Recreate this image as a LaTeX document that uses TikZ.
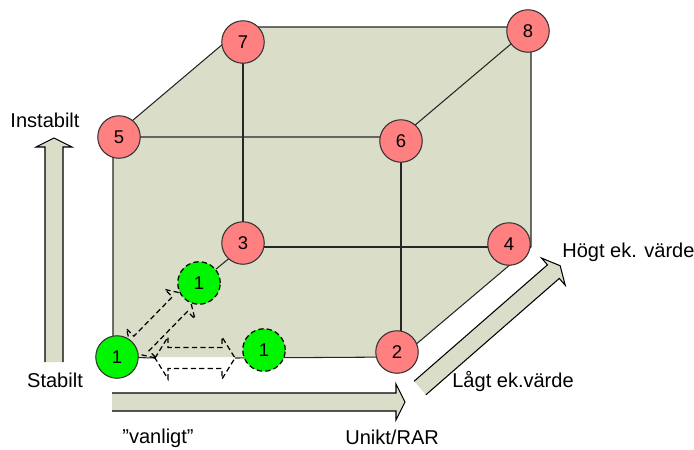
\documentclass[tikz,border=0pt]{standalone}
\usepackage{fontspec}
\setmainfont{Liberation Sans}
\usetikzlibrary{backgrounds}
\definecolor{cubefill}{RGB}{218,222,200}
\definecolor{ballred}{RGB}{255,128,128}
\definecolor{ballgreen}{RGB}{0,245,0}
\tikzstyle{ball} = [circle, draw=black!80, line width=0.6pt, minimum size=0.85cm, inner sep=0pt, font=\fontsize{10.5}{12}\selectfont]
\tikzstyle{redball} = [ball, fill=ballred]
\tikzstyle{greenball} = [ball, fill=ballgreen]
\tikzstyle{moveball} = [greenball, draw=black, line width=0.7pt, dash pattern=on 3pt off 1.8pt]
\tikzstyle{edge} = [draw=black!85, line width=0.6pt]
\tikzstyle{axislabel} = [font=\fontsize{11.4}{13}\selectfont, inner sep=0pt]
\tikzstyle{dashmove} = [draw=black, line width=0.7pt, dash pattern=on 3pt off 1.8pt]
\tikzset{
	pics/bigarrow/.style={code={
		\fill [cubefill] (0,-9) -- (#1-9,-9) -- (#1-9,-18) -- (#1,0) -- (#1-9,18) -- (#1-9,9) -- (0,9) -- cycle;
		\draw [edge, draw=black] (0,-9) -- (#1-9,-9) -- (#1-9,-18) -- (#1,0) -- (#1-9,18) -- (#1-9,9) -- (0,9);
	}},
	pics/movearrow/.style={code={
		\draw [dashmove] (0,0) -- (13,-21) -- (13,-10.5) -- (#1-13,-10.5) -- (#1-13,-21) -- (#1,0)
			-- (#1-13,21) -- (#1-13,10.5) -- (13,10.5) -- (13,21) -- cycle;
	}}
}

\begin{document}
\begin{tikzpicture}[x=0.02cm, y=-0.02cm]

		\useasboundingbox (0,0) rectangle (694,450);

		% cube corners
		\coordinate (c1) at (113,357);
		\coordinate (c2) at (401,357);
		\coordinate (c3) at (243,247);
		\coordinate (c4) at (531,247);
		\coordinate (c5) at (113,137);
		\coordinate (c6) at (401,137);
		\coordinate (c7) at (243,27);
		\coordinate (c8) at (531,27);

		% ends of the dashed move arrows
		\coordinate (htail) at (155,358);
		\coordinate (hhead) at (235,358);
		\coordinate (dtail) at (132.4,352.8);

		\node (n5) [redball] at (119,137) {5};
		\node (n7) [redball] at (243,42) {7};
		\node (n8) [redball] at (528,31) {8};
		\node (n6) [redball] at (401,141) {6};
		\node (n3) [redball] at (243,243) {3};
		\node (n4) [redball] at (509,244) {4};
		\node (n2) [redball] at (397,352) {2};

		\node (g1) [greenball] at (117,357) {1};
		\node (g1up) [moveball] at (199,283) {1};
		\node (g1right) [moveball] at (264,350) {1};

		\node (instab) [axislabel, anchor=base] at (45,127) {Instabilt};
		\node (stab) [axislabel, anchor=base] at (55,387) {Stabilt};
		\node (hogt) [axislabel, anchor=base west] at (562,257) {Högt ek. värde};
		\node (lagt) [axislabel, anchor=base west] at (452,387) {Lågt ek.värde};
		\node (vanl) [axislabel, anchor=base west] at (122,443) {”vanligt”};
		\node (unik) [axislabel, anchor=base west] at (345,444) {Unikt/RAR};

		\begin{scope}[on background layer]
			\fill [cubefill] (c5) -- (c7) -- (c8) -- (c4) -- (c2) -- (c1) -- cycle;
			\draw [edge] (c1) -- (c5) -- (c7) -- (c8) -- (c4) -- (c2);
			\draw [edge] (c5) -- (c6) -- (c8);
			\draw [edge] (c6) -- (c2);
			\draw [edge] (c7) -- (c3) -- (c4);
			\draw [edge] (g1up) -- (c3);
			\draw [edge] (c1) -- (htail);
			\draw [edge] (hhead) -- (c2);

			\pic [rotate=90] at (54,362) {bigarrow=224};
			\pic at (112,402) {bigarrow=293};
			\pic [rotate=41.1] at (420,388) {bigarrow=186};

			\pic at (htail) {movearrow=80};
			\pic [rotate=45.7] at (dtail) {movearrow=81};
		\end{scope}

	\end{tikzpicture}
\end{document}
